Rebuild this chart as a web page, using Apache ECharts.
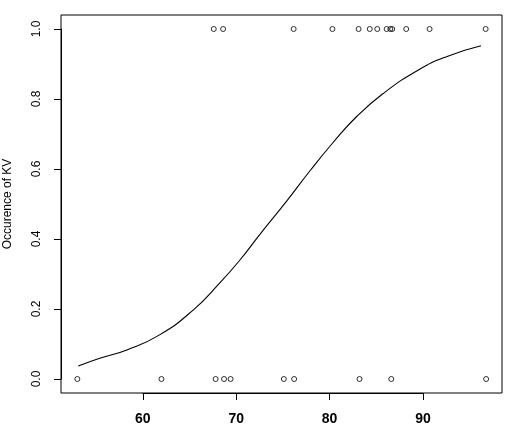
<!DOCTYPE html>
<html>
<head>
<meta charset="utf-8">
<script src="https://cdn.jsdelivr.net/npm/echarts@6/dist/echarts.min.js"></script>
<style>html,body{margin:0;padding:0;background:#fff}#c{width:507px;height:439px}</style>
</head>
<body>
<div id="c"></div>
<script>
// Observations with KV = 1
var xOne = [67.6, 68.6, 76.15, 80.3, 83.1, 84.3, 85.1, 86.1, 86.5, 86.7, 88.2, 90.7, 96.7];
// Observations with KV = 0
var xZero = [53.0, 62.0, 67.8, 68.7, 69.4, 75.1, 76.2, 83.2, 86.6, 96.75];
// Fitted curve
var curveX = [53.1, 55.4, 58.3, 61.8, 65.4, 68.2, 70.4, 72.5, 75.4, 77.9, 80.35, 82.9, 85.7, 89.5, 92.5, 96.2];
var curveY = [0.037, 0.059, 0.083, 0.126, 0.197, 0.273, 0.340, 0.412, 0.508, 0.595, 0.675, 0.750, 0.815, 0.883, 0.921, 0.952];
var xTicks = [60, 70, 80, 90];
var yTicks = [0, 0.2, 0.4, 0.6, 0.8, 1.0];
var yTitle = 'Occurence of KV';

var X_MIN = 51.25, X_MAX = 98.45, Y_MIN = -0.04, Y_MAX = 1.04;
var W = 507, H = 439, GL = 61, GR = 5, GT = 15, GB = 46;
var TL = 7;

var ptsOne = xOne.map(function (x) { return [x, 1]; });
var ptsZero = xZero.map(function (x) { return [x, 0]; });
var curve = curveX.map(function (x, i) { return [x, curveY[i]]; });

// Second, mark-free grid whose axes span exactly the first..last tick, used only to draw tick marks
var pw = W - GL - GR, ph = H - GT - GB;
var xt0 = xTicks[0], xt1 = xTicks[xTicks.length - 1];
var yt0 = yTicks[0], yt1 = yTicks[yTicks.length - 1];
var g2Left = GL + (xt0 - X_MIN) / (X_MAX - X_MIN) * pw;
var g2Right = GR + (X_MAX - xt1) / (X_MAX - X_MIN) * pw;
var g2Top = GT + (Y_MAX - yt1) / (Y_MAX - Y_MIN) * ph;
var g2Bottom = GB + (yt0 - Y_MIN) / (Y_MAX - Y_MIN) * ph;

var chart = echarts.init(document.getElementById('c'), null, { renderer: 'canvas' });
chart.setOption({
  animation: false,
  backgroundColor: '#fff',
  grid: [
    { left: GL, right: GR, top: GT, bottom: GB, outerBoundsMode: 'none', containLabel: false,
      show: true, borderColor: '#000', borderWidth: 1, backgroundColor: 'transparent' },
    { left: g2Left, right: g2Right, top: g2Top, bottom: g2Bottom, outerBoundsMode: 'none', containLabel: false,
      show: false }
  ],
  xAxis: [
    {
      type: 'value', min: X_MIN, max: X_MAX, gridIndex: 0,
      axisLine: { show: false, onZero: false },
      splitLine: { show: false },
      axisTick: { show: false },
      axisLabel: { customValues: xTicks, margin: 19, color: '#000', fontFamily: 'Liberation Sans', fontSize: 14, fontWeight: 'bold' }
    },
    {
      type: 'value', min: xt0, max: xt1, interval: xTicks[1] - xTicks[0], gridIndex: 1,
      position: 'bottom', offset: g2Bottom - GB,
      axisLine: { show: true, onZero: false, lineStyle: { color: '#000', width: 1 } },
      axisTick: { show: true, inside: false, length: TL, lineStyle: { color: '#000', width: 1 } },
      axisLabel: { show: false },
      splitLine: { show: false }
    }
  ],
  yAxis: [
    {
      type: 'value', min: Y_MIN, max: Y_MAX, gridIndex: 0,
      name: yTitle, nameLocation: 'middle', nameRotate: 90, nameGap: 47,
      nameTextStyle: { color: '#000', fontFamily: 'Liberation Sans', fontSize: 12 },
      axisLine: { show: false, onZero: false },
      splitLine: { show: false },
      axisTick: { show: false },
      axisLabel: { customValues: yTicks, rotate: 90, margin: 18, color: '#000', fontFamily: 'Liberation Sans', fontSize: 12,
        formatter: function (v) { return v.toFixed(1); } }
    },
    {
      type: 'value', min: yt0, max: yt1, interval: yTicks[1] - yTicks[0], gridIndex: 1,
      position: 'left', offset: g2Left - GL,
      axisLine: { show: true, onZero: false, lineStyle: { color: '#000', width: 1 } },
      axisTick: { show: true, inside: false, length: TL, lineStyle: { color: '#000', width: 1 } },
      axisLabel: { show: false },
      splitLine: { show: false }
    }
  ],
  series: [
    { type: 'line', xAxisIndex: 0, yAxisIndex: 0, data: curve, smooth: true, showSymbol: false, symbol: 'none',
      lineStyle: { color: '#000', width: 1.1 } },
    { type: 'scatter', xAxisIndex: 0, yAxisIndex: 0, data: ptsOne, symbol: 'circle', symbolSize: 5,
      itemStyle: { color: 'rgba(0,0,0,0)', borderColor: '#000', borderWidth: 1 } },
    { type: 'scatter', xAxisIndex: 0, yAxisIndex: 0, data: ptsZero, symbol: 'circle', symbolSize: 5,
      itemStyle: { color: 'rgba(0,0,0,0)', borderColor: '#000', borderWidth: 1 } }
  ]
});
</script>
</body>
</html>
